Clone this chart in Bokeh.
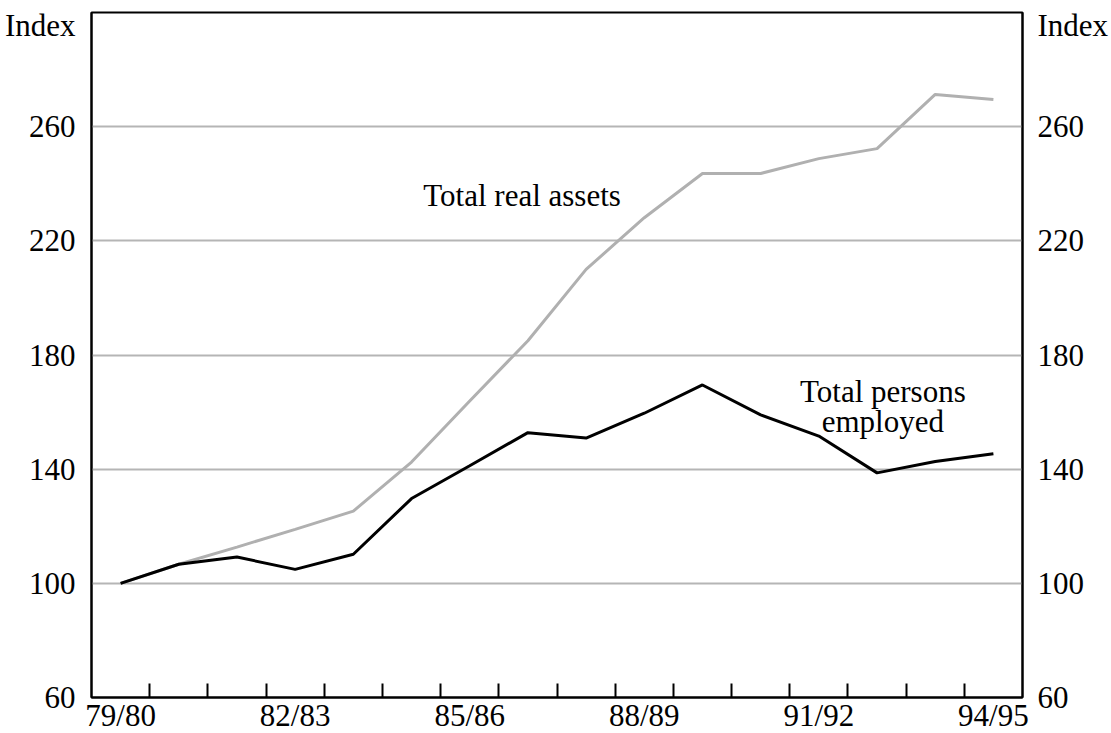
import numpy as np
from bokeh.plotting import figure
from bokeh.models import Range1d, LinearAxis, FixedTicker, Label
from bokeh.embed import file_html
from bokeh.resources import INLINE

years = ["79/80", "80/81", "81/82", "82/83", "83/84", "84/85", "85/86", "86/87",
         "87/88", "88/89", "89/90", "90/91", "91/92", "92/93", "93/94", "94/95"]
real_assets = [100, 106.7, 112.7, 118.9, 125.3, 142.5, 163.9, 185.0,
               210.0, 228.1, 243.6, 243.6, 248.8, 252.3, 271.3, 269.5]
persons_employed = [100, 106.7, 109.2, 104.9, 110.2, 129.7, 141.2, 152.8,
                    150.9, 159.6, 169.5, 159.0, 151.6, 138.7, 142.7, 145.4]
y_ticks = [60, 100, 140, 180, 220, 260]
grid_lines = [100, 140, 180, 220, 260]
label_every = 3
unit_label = "Index"
unit_label_pos = 295.3

FONT = "Liberation Serif"
FS = "31px"

x = np.arange(len(years)) + 0.5

p = figure(width=1111, height=735, output_backend="svg", toolbar_location=None,
           x_range=Range1d(0, len(years)), y_range=Range1d(60, 300),
           min_border_left=91, min_border_right=89, min_border_top=12, min_border_bottom=25)
p.background_fill_color = "white"
p.border_fill_color = "white"
p.outline_line_color = "black"
p.outline_line_width = 2

# x axis
xt = FixedTicker(ticks=[i + 0.5 for i in range(0, len(years), label_every)],
                 minor_ticks=[float(i) for i in range(1, len(years))])
p.xaxis.ticker = xt
p.xaxis.major_label_overrides = {i + 0.5: years[i] for i in range(0, len(years), label_every)}
p.xaxis.major_tick_in = 0
p.xaxis.major_tick_out = 0
p.xaxis.minor_tick_in = 14
p.xaxis.minor_tick_out = 0
p.xaxis.minor_tick_line_width = 2
p.xaxis.axis_line_width = 2
p.xaxis.major_label_standoff = 0
p.xaxis.major_label_text_font = FONT
p.xaxis.major_label_text_font_size = FS
p.xaxis.major_label_text_color = "black"

# y axes (the unit label "Index" sits as an extra tick label at the top)
left_ticker = FixedTicker(ticks=y_ticks + [unit_label_pos], minor_ticks=[])
p.yaxis[0].ticker = left_ticker
ax_r = LinearAxis(ticker=FixedTicker(ticks=y_ticks + [unit_label_pos], minor_ticks=[]))
p.add_layout(ax_r, "right")
for ax in [p.yaxis[0], ax_r]:
    ax.major_label_overrides = {unit_label_pos: unit_label}
    ax.major_tick_in = 0
    ax.major_tick_out = 0
    ax.minor_tick_in = 0
    ax.minor_tick_out = 0
    ax.axis_line_width = 2
    ax.major_label_text_font = FONT
    ax.major_label_text_font_size = FS
    ax.major_label_text_color = "black"
    ax.major_label_orientation = "horizontal"
p.yaxis[0].major_label_standoff = 16
ax_r.major_label_standoff = 15

p.xgrid.visible = False
p.ygrid.ticker = FixedTicker(ticks=grid_lines, minor_ticks=[])
p.ygrid.grid_line_color = "#b5b5b5"
p.ygrid.grid_line_width = 2

p.line(x, real_assets, line_color="#b0b0b0", line_width=3)
p.line(x, persons_employed, line_color="black", line_width=3)

def lab(xv, yv, t, align="center"):
    p.add_layout(Label(x=xv, y=yv, text=t, text_font=FONT, text_font_size=FS,
                       text_align=align, text_baseline="alphabetic", text_color="black"))

lab(7.40, 235.9, "Total real assets")
lab(13.60, 167.1, "Total persons")
lab(13.60, 156.6, "employed")

open("out.html", "w").write(file_html(p, INLINE))
